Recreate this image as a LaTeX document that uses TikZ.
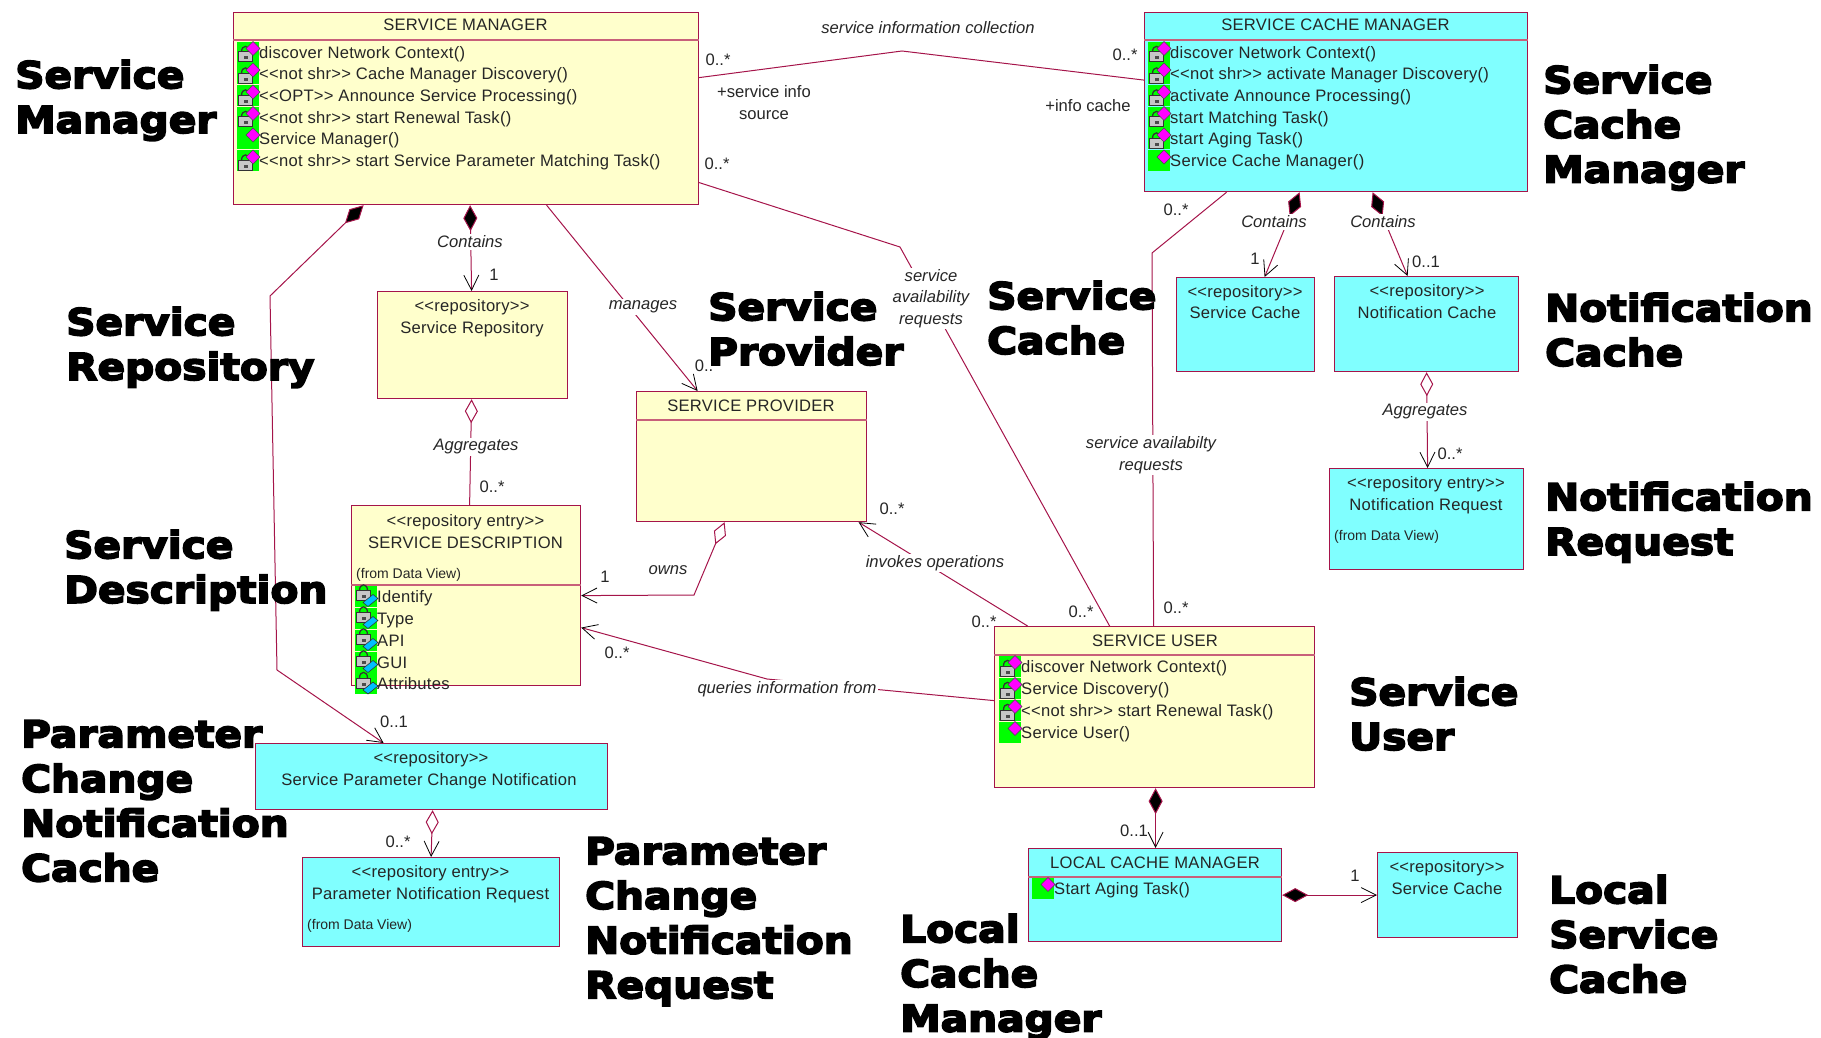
\documentclass[tikz,border=0pt]{standalone}
\usepackage{fontspec}
\setmainfont{Liberation Sans}
\newfontfamily\rowfont[LetterSpace=1.5]{Liberation Sans}
\newfontfamily\titlefont[FakeBold=4.6,FakeStretch=1.1]{DejaVu Sans Bold}
\usetikzlibrary{arrows.meta}
\definecolor{crim}{HTML}{A5144A}
\definecolor{compline}{HTML}{C8607A}
\definecolor{uy}{HTML}{FFFFCC}
\definecolor{uc}{HTML}{80FFFF}
\definecolor{ugreen}{HTML}{00FF00}
\definecolor{umag}{HTML}{FF00FF}
\definecolor{ublue}{HTML}{00BFFF}
\tikzset{
  fdiam/.tip={Diamond[length=26pt,width=14pt,fill=black,color=crim,line width=1pt]},
  odiam/.tip={Diamond[length=24pt,width=13pt,fill=white,color=crim,line width=1pt]},
  ovee/.tip={Straight Barb[length=15pt,width=15pt,color=black,line width=.8pt]},
  yb/.style={draw=crim,line width=1.2pt,fill=uy,inner sep=0pt,anchor=north west},
  cb/.style={draw=crim,line width=1.2pt,fill=uc,inner sep=0pt,anchor=north west},
  comp/.style={draw=compline,line width=1.3pt},
  conn/.style={draw=crim,line width=1pt},
  txt/.style={inner sep=0pt,anchor=base,text=black!85,font=\rowfont\fontsize{16.6}{20}\selectfont},
  from/.style={inner sep=0pt,anchor=base west,text=black!85,font=\fontsize{14}{17}\selectfont},
  rowtxt/.style={inner sep=0pt,anchor=base west,text=black!85,font=\rowfont\fontsize{16.6}{20}\selectfont},
  lab/.style={inner sep=1.5pt,anchor=center,fill=white,text=black!85,align=center,font=\fontsize{16.6}{21.6}\selectfont\itshape},
  plain/.style={inner sep=0pt,anchor=center,text=black!85,align=center,font=\fontsize{16.6}{21.2}\selectfont},
  ttl/.style={inner sep=0pt,anchor=north west,align=left,text=black,font=\titlefont\fontsize{37}{44.7}\selectfont},
  lockshape/.pic={
    \draw[black!80,line width=1.3pt] (4.5,#1+5) .. controls (4.5,#1-2.5) and (12.5,#1-2.5) .. (12.5,#1+5);
    \draw[black!80,fill=black!22,line width=1pt] (1.5,#1+5) rectangle (15,#1+15);
    \fill[black!70] (6.5,#1+9.5) rectangle (10.5,#1+12.5);
  },
  oppriv/.pic={
    \fill[ugreen] (0,0) rectangle (22,21);
    \pic at (0,0) {lockshape=5};
    \draw[fill=umag,draw=black!70,line width=.6pt] (16,-0.5) -- (23,6.5) -- (16,13.5) -- (9,6.5) -- cycle;
  },
  oppub/.pic={
    \fill[ugreen] (0,0) rectangle (22,21);
    \draw[fill=umag,draw=black!70,line width=.6pt] (16,-0.5) -- (23,6.5) -- (16,13.5) -- (9,6.5) -- cycle;
  },
  attr/.pic={
    \fill[ugreen] (0,0) rectangle (22,21);
    \pic at (0,0) {lockshape=0};
    \draw[fill=ublue,draw=black!80,line width=.6pt] (8,17) -- (18,9) -- (23,13) -- (13,21) -- cycle;
  },
}
\newcommand\umlrow[5]{%
  \pic at (#3,#4-10.5) {#2};
  \node[rowtxt] (#1) at (#3+22,#4+6) {#5};}
\begin{document}
\begin{tikzpicture}[x=1pt,y=-1pt]
\useasboundingbox (0,0) rectangle (1821,1038);
% ---------- boxes
\node[yb,minimum width=465pt,minimum height=192pt] (sm) at (233,12) {};
\node[cb,minimum width=383pt,minimum height=179pt] (scm) at (1144,12) {};
\node[yb,minimum width=190pt,minimum height=107pt] (repo) at (377,291) {};
\node[yb,minimum width=230pt,minimum height=130pt] (sp) at (636,391) {};
\node[yb,minimum width=229pt,minimum height=180pt] (sd) at (351,505) {};
\node[yb,minimum width=320pt,minimum height=161pt] (su) at (994,626) {};
\node[cb,minimum width=253pt,minimum height=93pt] (lcm) at (1028,848) {};
\node[cb,minimum width=140pt,minimum height=85pt] (lsc) at (1377,852) {};
\node[cb,minimum width=138pt,minimum height=94pt] (sc) at (1176,277) {};
\node[cb,minimum width=184pt,minimum height=95pt] (nc) at (1334,276) {};
\node[cb,minimum width=194pt,minimum height=101pt] (nr) at (1329,468) {};
\node[cb,minimum width=352pt,minimum height=66pt] (pc) at (255,743) {};
\node[cb,minimum width=257pt,minimum height=89pt] (pnr) at (302,857) {};
% compartment lines
\draw[comp] ([yshift=-28pt]sm.north west) -- ([yshift=-28pt]sm.north east);
\draw[comp] ([yshift=-28pt]scm.north west) -- ([yshift=-28pt]scm.north east);
\draw[comp] ([yshift=-29pt]sp.north west) -- ([yshift=-29pt]sp.north east);
\draw[comp] ([yshift=-80pt]sd.north west) -- ([yshift=-80pt]sd.north east);
\draw[comp] ([yshift=-29pt]su.north west) -- ([yshift=-29pt]su.north east);
\draw[comp] ([yshift=-29pt]lcm.north west) -- ([yshift=-29pt]lcm.north east);
% ---------- box texts
\node[txt] (tsm) at (465.5,31) {SERVICE MANAGER};
\umlrow{sm1}{oppriv}{237}{52.5}{discover Network Context()}
\umlrow{sm2}{oppriv}{237}{74}{<{}<not shr>{}> Cache Manager Discovery()}
\umlrow{sm3}{oppriv}{237}{96}{<{}<OPT>{}> Announce Service Processing()}
\umlrow{sm4}{oppriv}{237}{117.5}{<{}<not shr>{}> start Renewal Task()}
\umlrow{sm5}{oppub}{237}{139}{Service Manager()}
\umlrow{sm6}{oppriv}{237}{161}{<{}<not shr>{}> start Service Parameter Matching Task()}
\node[txt] (tscm) at (1335.5,31) {SERVICE CACHE MANAGER};
\umlrow{scm1}{oppriv}{1148}{52.5}{discover Network Context()}
\umlrow{scm2}{oppriv}{1148}{74}{<{}<not shr>{}> activate Manager Discovery()}
\umlrow{scm3}{oppriv}{1148}{96}{activate Announce Processing()}
\umlrow{scm4}{oppriv}{1148}{117.5}{start Matching Task()}
\umlrow{scm5}{oppriv}{1148}{139}{start Aging Task()}
\umlrow{scm6}{oppub}{1148}{161}{Service Cache Manager()}
\node[txt] (trepo1) at (472,311) {<{}<repository>{}>};
\node[txt] (trepo2) at (472,333) {Service Repository};
\node[txt] (tsp) at (751,411) {SERVICE PROVIDER};
\node[txt] (tsd1) at (465.5,526) {<{}<repository entry>{}>};
\node[txt] (tsd2) at (465.5,548) {SERVICE DESCRIPTION};
\node[from] (tsd3) at (356,578) {(from Data View)};
\umlrow{sd1}{attr}{355}{596}{Identify}
\umlrow{sd2}{attr}{355}{618}{Type}
\umlrow{sd3}{attr}{355}{640}{API}
\umlrow{sd4}{attr}{355}{662}{GUI}
\umlrow{sd5}{attr}{355}{683.5}{Attributes}
\node[txt] (tsu) at (1155,646) {SERVICE USER};
\umlrow{su1}{oppriv}{999}{666.5}{discover Network Context()}
\umlrow{su2}{oppriv}{999}{688.5}{Service Discovery()}
\umlrow{su3}{oppriv}{999}{710.5}{<{}<not shr>{}> start Renewal Task()}
\umlrow{su4}{oppub}{999}{732.5}{Service User()}
\node[txt] (tlcm) at (1155,868) {LOCAL CACHE MANAGER};
\umlrow{lcm1}{oppub}{1032}{888.5}{Start Aging Task()}
\node[txt] (tlsc1) at (1447,872) {<{}<repository>{}>};
\node[txt] (tlsc2) at (1447,894) {Service Cache};
\node[txt] (tsc1) at (1245,297) {<{}<repository>{}>};
\node[txt] (tsc2) at (1245,318) {Service Cache};
\node[txt] (tnc1) at (1427,296) {<{}<repository>{}>};
\node[txt] (tnc2) at (1427,318) {Notification Cache};
\node[txt] (tnr1) at (1426,488) {<{}<repository entry>{}>};
\node[txt] (tnr2) at (1426,510) {Notification Request};
\node[from] (tnr3) at (1334,540) {(from Data View)};
\node[txt] (tpc1) at (431,763) {<{}<repository>{}>};
\node[txt] (tpc2) at (429,785) {Service Parameter Change Notification};
\node[txt] (tpnr1) at (430.5,877) {<{}<repository entry>{}>};
\node[txt] (tpnr2) at (430.5,899) {Parameter Notification Request};
\node[from] (tpnr3) at (307,929) {(from Data View)};
% ---------- connector bends
\coordinate (b1) at (902,51);
\coordinate (b2) at (900,247);
\coordinate (b3) at (1152,253);
\coordinate (b4) at (270,296);
\coordinate (b5) at (277,670);
\coordinate (b6) at (694,595);
\coordinate (b7) at (767,679);
% ---------- connectors
\draw[conn] ([yshift=31pt]sm.east) -- (b1) -- ([yshift=22pt]scm.west);
\draw[conn] ([yshift=-74pt]sm.east) -- (b2) -- ([xshift=-45pt]su.north);
\draw[conn] ([xshift=-109.5pt]scm.south) -- (b3) -- ([xshift=-1pt]su.north);
\draw[conn,fdiam-ovee] ([xshift=4pt]sm.south) -- ([xshift=-1pt]repo.north);
\draw[conn,-ovee] ([xshift=80.5pt]sm.south) -- ([xshift=-54pt]sp.north);
\draw[conn,fdiam-ovee] ([xshift=-102.5pt]sm.south) -- (b4) -- (b5) -- ([xshift=-48pt]pc.north);
\draw[conn,odiam-] ([xshift=-1pt]repo.south) -- ([xshift=3.5pt]sd.north);
\draw[conn,odiam-ovee] ([xshift=-27pt]sp.south) -- (b6) -- ([yshift=0pt]sd.east);
\draw[conn,-ovee] ([xshift=-127pt]su.north) -- ([xshift=107pt]sp.south);
\draw[conn,-ovee] ([yshift=6.5pt]su.west) -- (b7) -- ([yshift=-32pt]sd.east);
\draw[conn,fdiam-ovee] ([xshift=1pt]su.south) -- ([xshift=.5pt]lcm.north);
\draw[conn,fdiam-ovee] (lcm.east) -- (lsc.west);
\draw[conn,fdiam-ovee] ([xshift=-36.5pt]scm.south) -- ([xshift=19pt]sc.north);
\draw[conn,fdiam-ovee] ([xshift=36.5pt]scm.south) -- ([xshift=-19pt]nc.north);
\draw[conn,odiam-ovee] (nc.south) -- ([xshift=1pt]nr.north);
\draw[conn,odiam-ovee] ([xshift=1pt]pc.south) -- (pnr.north);
% ---------- connector labels
\node[plain,text=black!85] (l1) at (928,28) {\itshape service information collection};
\node[plain] (l2) at (764,102.5) {+service info\\source};
\node[plain] (l3) at (1088,106) {+info cache};
\node[lab] (l4) at (931,298.5) {service\\availability\\requests};
\node[lab] (l5) at (1151,455) {service availabilty\\requests};
\node[lab] (l6) at (470,242) {Contains};
\node[lab] (l7) at (643,307) {manages};
\node[lab] (l8) at (476,447) {Aggregates};
\node[lab] (l9) at (668,570) {owns};
\node[lab] (l10) at (935,563) {invokes operations};
\node[lab] (l11) at (787,689) {queries information from};
\node[lab] (l12) at (1274,222) {Contains};
\node[lab] (l13) at (1383,222) {Contains};
\node[lab] (l14) at (1425,412) {Aggregates};
% multiplicities
\node[plain] (m1) at (718,60) {0..*};
\node[plain] (m2) at (1125,55) {0..*};
\node[plain] (m3) at (717,164) {0..*};
\node[plain] (m4) at (1176,210) {0..*};
\node[plain] (m5) at (1081,612) {0..*};
\node[plain] (m6) at (1176,608) {0..*};
\node[plain] (m7) at (494,275) {1};
\node[plain] (m8) at (704,366) {0..};
\node[plain] (m9) at (492,487) {0..*};
\node[plain] (m10) at (605,577) {1};
\node[plain] (m11) at (892,509) {0..*};
\node[plain] (m12) at (984,622) {0..*};
\node[plain] (m13) at (617,653) {0..*};
\node[plain] (m14) at (394,722) {0..1};
\node[plain] (m15) at (398,842) {0..*};
\node[plain] (m16) at (1134,831) {0..1};
\node[plain] (m17) at (1355,876) {1};
\node[plain] (m18) at (1255,259) {1};
\node[plain] (m19) at (1426,262) {0..1};
\node[plain] (m20) at (1450,454) {0..*};
% ---------- big titles
\def\tstrut{\rule{0pt}{32pt}}
\node[ttl] (h1) at (15,56) {\tstrut Service\\Manager};
\node[ttl] (h2) at (1543,61) {\tstrut Service\\Cache\\Manager};
\node[ttl] (h3) at (66,303) {\tstrut Service\\Repository};
\node[ttl] (h4) at (708,288) {\tstrut Service\\Provider};
\node[ttl] (h5) at (987,277) {\tstrut Service\\Cache};
\node[ttl] (h6) at (1545,289) {\tstrut Notification\\Cache};
\node[ttl] (h7) at (64,526) {\tstrut Service\\Description};
\node[ttl] (h8) at (1545,478) {\tstrut Notification\\Request};
\node[ttl] (h9) at (1349,673) {\tstrut Service\\User};
\node[ttl] (h10) at (21,715) {\tstrut Parameter\\Change\\Notification\\Cache};
\node[ttl] (h11) at (585,832) {\tstrut Parameter\\Change\\Notification\\Request};
\node[ttl] (h12) at (900,910) {\tstrut Local\\Cache\\Manager};
\node[ttl] (h13) at (1549,871) {\tstrut Local\\Service\\Cache};
\end{tikzpicture}
\end{document}
